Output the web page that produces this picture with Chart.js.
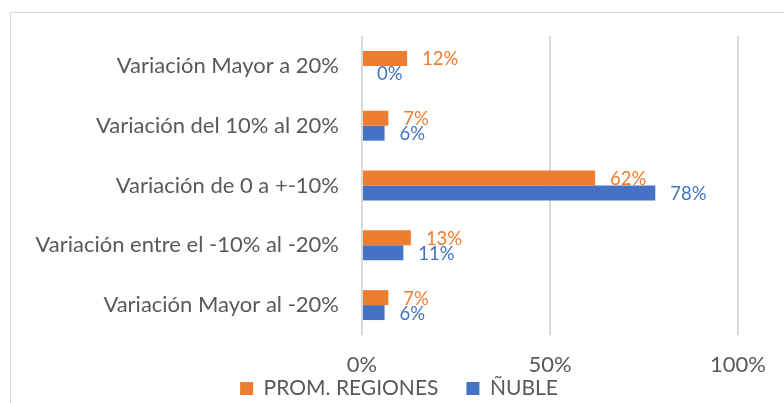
<!DOCTYPE html>
<html>
<head>
<meta charset="utf-8">
<script src="https://cdn.jsdelivr.net/npm/chart.js@4"></script>
<style>
  html, body { margin: 0; padding: 0; background: #fff; }
  #wrap { position: relative; width: 784px; height: 403px; }
  #frame { position: absolute; left: 10px; top: 12px; width: 800px; height: 420px;
           border-left: 1px solid #d9d9d9; border-top: 1px solid #d9d9d9; }
  canvas { position: absolute; left: 0; top: 0; }
</style>
</head>
<body>
<div id="wrap">
  <div id="frame"></div>
  <canvas id="chart" width="784" height="403"></canvas>
</div>
<script>
const categories = [
    'Variación Mayor a 20%',
    'Variación del 10% al 20%',
    'Variación de 0 a +-10%',
    'Variación entre el -10% al -20%',
    'Variación Mayor al -20%'
];
const promRegiones = [0.12, 0.07, 0.62, 0.13, 0.07];
const nuble = [0.00, 0.06, 0.78, 0.11, 0.06];
const xTicks = [0, 0.5, 1];

const FONT = 'Lato, "Open Sans", sans-serif';
const ORANGE = '#ED7D31';
const BLUE = '#4472C4';
const GREY = '#595959';
const LEGEND_PAD = 28;

// percentage text drawn just past the end of each bar
const barLabels = {
    id: 'barLabels',
    afterDatasetsDraw(chart) {
        const ctx = chart.ctx;
        ctx.save();
        ctx.font = '18.5px ' + FONT;
        ctx.textAlign = 'left';
        ctx.textBaseline = 'middle';
        chart.data.datasets.forEach((ds, i) => {
            ctx.fillStyle = ds.backgroundColor;
            chart.getDatasetMeta(i).data.forEach((bar, j) => {
                const txt = Math.round(ds.data[j] * 100) + '%';
                ctx.fillText(txt, bar.x + 15, bar.y + 1);
            });
        });
        ctx.restore();
    }
};

// keep the legend short in the layout, then stretch its box up so the
// row sits just under the tick labels
const legendPlace = {
    id: 'legendPlace',
    beforeLayout(chart) {
        const lg = chart.legend;
        if (lg && !lg._fitPatched) {
            const fit = lg.fit.bind(lg);
            lg.fit = function () { fit(); this.height = 28; };
            lg._fitPatched = true;
        }
    },
    afterLayout(chart) {
        const lg = chart.legend;
        if (!lg) return;
        lg.top -= LEGEND_PAD - 3;
        lg.bottom = chart.height;
        lg.height = lg.bottom - lg.top;
        lg.left = 14;
        lg.right = chart.width;
        lg.width = lg.right - lg.left;
    }
};

const ctx = document.getElementById('chart').getContext('2d');
const myChart = new Chart(ctx, {
    type: 'bar',
    data: {
        labels: categories,
        datasets: [{
            label: 'PROM. REGIONES',
            data: promRegiones,
            backgroundColor: ORANGE
        }, {
            label: 'ÑUBLE',
            data: nuble,
            backgroundColor: BLUE
        }]
    },
    options: {
        indexAxis: 'y',
        responsive: false,
        animation: false,
        datasets: {
            bar: { categoryPercentage: 0.5, barPercentage: 1.0 }
        },
        layout: { padding: { left: 0, top: 36, right: 46, bottom: 0 } },
        scales: {
            y: {
                grid: { display: false },
                border: { display: false },
                ticks: { color: GREY, font: { family: FONT, size: 22 }, padding: 15 },
                afterFit: (s) => { s.width = 362; }
            },
            x: {
                min: 0,
                max: 1,
                afterBuildTicks: (s) => { s.ticks = xTicks.map(v => ({ value: v })); },
                grid: { color: '#d9d9d9', lineWidth: 2, drawTicks: false },
                border: { display: false },
                ticks: {
                    color: GREY,
                    font: { family: FONT, size: 22 },
                    padding: 17,
                    callback: (v) => Math.round(v * 100) + '%'
                },
                afterFit: (s) => { s.height = 40; }
            }
        },
        plugins: {
            legend: {
                position: 'bottom',
                labels: {
                    color: GREY,
                    font: { family: FONT, size: 21 },
                    boxWidth: 13,
                    boxHeight: 13,
                    padding: LEGEND_PAD
                }
            },
            tooltip: { enabled: false }
        }
    },
    plugins: [barLabels, legendPlace]
});
</script>
</body>
</html>
